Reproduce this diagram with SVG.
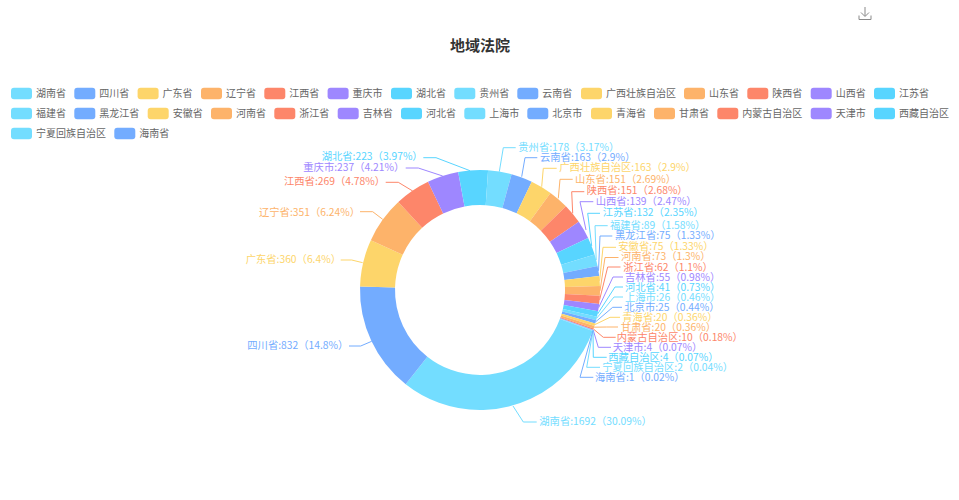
<svg xmlns="http://www.w3.org/2000/svg" width="959" height="500" viewBox="0 0 959 500">
<style>
text{font-family:"Noto Sans CJK SC","Liberation Sans",sans-serif;dominant-baseline:central}
.title{font-size:15px;font-weight:700;fill:#333;text-anchor:middle}
.leg text{font-size:10px;fill:#666}
.lab{font-size:10.3px}
.w{fill:none;stroke-width:35;transform:rotate(20deg);transform-origin:480px 290px}
.conn path{fill:none;stroke-width:1}
.s0{stroke:#73DDFF}.s1{stroke:#73ACFF}.s2{stroke:#FDD56A}.s3{stroke:#FDB36A}.s4{stroke:#FD866A}.s5{stroke:#9E87FF}.s6{stroke:#58D5FF}
.f0{fill:#73DDFF}.f1{fill:#73ACFF}.f2{fill:#FDD56A}.f3{fill:#FDB36A}.f4{fill:#FD866A}.f5{fill:#9E87FF}.f6{fill:#58D5FF}
</style>
<rect width="959" height="500" fill="#fff"/>
<text class="title" x="480" y="44">地域法院</text>
<g id="download-icon" fill="none" stroke="#8a8a8a" stroke-width="1"><path d="M865 7V16M861 12.5L865 16.5L869 12.5M859 15.5V19.5H871V15.5"/></g>
<g id="legend" class="leg">
<g><rect class="f0" x="11" y="87.7" width="21" height="11.6" rx="3"/><text x="36" y="92.8">湖南省</text></g>
<g><rect class="f1" x="74.3" y="87.7" width="21" height="11.6" rx="3"/><text x="99.3" y="92.8">四川省</text></g>
<g><rect class="f2" x="137.6" y="87.7" width="21" height="11.6" rx="3"/><text x="162.6" y="92.8">广东省</text></g>
<g><rect class="f3" x="201" y="87.7" width="21" height="11.6" rx="3"/><text x="226" y="92.8">辽宁省</text></g>
<g><rect class="f4" x="264.3" y="87.7" width="21" height="11.6" rx="3"/><text x="289.3" y="92.8">江西省</text></g>
<g><rect class="f5" x="327.6" y="87.7" width="21" height="11.6" rx="3"/><text x="352.6" y="92.8">重庆市</text></g>
<g><rect class="f6" x="391" y="87.7" width="21" height="11.6" rx="3"/><text x="416" y="92.8">湖北省</text></g>
<g><rect class="f0" x="454.3" y="87.7" width="21" height="11.6" rx="3"/><text x="479.3" y="92.8">贵州省</text></g>
<g><rect class="f1" x="517.3" y="87.7" width="21" height="11.6" rx="3"/><text x="542.3" y="92.8">云南省</text></g>
<g><rect class="f2" x="581" y="87.7" width="21" height="11.6" rx="3"/><text x="606" y="92.8">广西壮族自治区</text></g>
<g><rect class="f3" x="684" y="87.7" width="21" height="11.6" rx="3"/><text x="709" y="92.8">山东省</text></g>
<g><rect class="f4" x="747.3" y="87.7" width="21" height="11.6" rx="3"/><text x="772.3" y="92.8">陕西省</text></g>
<g><rect class="f5" x="810.7" y="87.7" width="21" height="11.6" rx="3"/><text x="835.7" y="92.8">山西省</text></g>
<g><rect class="f6" x="874" y="87.7" width="21" height="11.6" rx="3"/><text x="899" y="92.8">江苏省</text></g>
<g><rect class="f0" x="11" y="107.7" width="21" height="11.6" rx="3"/><text x="36" y="112.8">福建省</text></g>
<g><rect class="f1" x="74.3" y="107.7" width="21" height="11.6" rx="3"/><text x="99.3" y="112.8">黑龙江省</text></g>
<g><rect class="f2" x="147.7" y="107.7" width="21" height="11.6" rx="3"/><text x="172.7" y="112.8">安徽省</text></g>
<g><rect class="f3" x="211" y="107.7" width="21" height="11.6" rx="3"/><text x="236" y="112.8">河南省</text></g>
<g><rect class="f4" x="274.3" y="107.7" width="21" height="11.6" rx="3"/><text x="299.3" y="112.8">浙江省</text></g>
<g><rect class="f5" x="337.7" y="107.7" width="21" height="11.6" rx="3"/><text x="362.7" y="112.8">吉林省</text></g>
<g><rect class="f6" x="401" y="107.7" width="21" height="11.6" rx="3"/><text x="426" y="112.8">河北省</text></g>
<g><rect class="f0" x="464.3" y="107.7" width="21" height="11.6" rx="3"/><text x="489.3" y="112.8">上海市</text></g>
<g><rect class="f1" x="527.3" y="107.7" width="21" height="11.6" rx="3"/><text x="552.3" y="112.8">北京市</text></g>
<g><rect class="f2" x="591" y="107.7" width="21" height="11.6" rx="3"/><text x="616" y="112.8">青海省</text></g>
<g><rect class="f3" x="654" y="107.7" width="21" height="11.6" rx="3"/><text x="679" y="112.8">甘肃省</text></g>
<g><rect class="f4" x="717.3" y="107.7" width="21" height="11.6" rx="3"/><text x="742.3" y="112.8">内蒙古自治区</text></g>
<g><rect class="f5" x="810.7" y="107.7" width="21" height="11.6" rx="3"/><text x="835.7" y="112.8">天津市</text></g>
<g><rect class="f6" x="874" y="107.7" width="21" height="11.6" rx="3"/><text x="899" y="112.8">西藏自治区</text></g>
<g><rect class="f0" x="11" y="127.7" width="21" height="11.6" rx="3"/><text x="36" y="132.8">宁夏回族自治区</text></g>
<g><rect class="f1" x="114.3" y="127.7" width="21" height="11.6" rx="3"/><text x="139.3" y="132.8">海南省</text></g>
</g>
<g id="node-hunan"><circle class="w s0" cx="480" cy="290" r="102.5" pathLength="5623" stroke-dasharray="1692 5623" stroke-dashoffset="0"/><text class="lab f0" x="539.3" y="420.3">湖南省:1692（30.09%）</text></g>
<g id="node-sichuan"><circle class="w s1" cx="480" cy="290" r="102.5" pathLength="5623" stroke-dasharray="832 5623" stroke-dashoffset="-1692"/><text class="lab f1" x="247.3" y="344.3">四川省:832（14.8%）</text></g>
<g id="node-guangdong"><circle class="w s2" cx="480" cy="290" r="102.5" pathLength="5623" stroke-dasharray="360 5623" stroke-dashoffset="-2524"/><text class="lab f2" x="245.7" y="258.3">广东省:360（6.4%）</text></g>
<g id="node-liaoning"><circle class="w s3" cx="480" cy="290" r="102.5" pathLength="5623" stroke-dasharray="351 5623" stroke-dashoffset="-2884"/><text class="lab f3" x="259" y="211">辽宁省:351（6.24%）</text></g>
<g id="node-jiangxi"><circle class="w s4" cx="480" cy="290" r="102.5" pathLength="5623" stroke-dasharray="269 5623" stroke-dashoffset="-3235"/><text class="lab f4" x="284" y="180.3">江西省:269（4.78%）</text></g>
<g id="node-chongqing"><circle class="w s5" cx="480" cy="290" r="102.5" pathLength="5623" stroke-dasharray="237 5623" stroke-dashoffset="-3504"/><text class="lab f5" x="303.3" y="166">重庆市:237（4.21%）</text></g>
<g id="node-hubei"><circle class="w s6" cx="480" cy="290" r="102.5" pathLength="5623" stroke-dasharray="223 5623" stroke-dashoffset="-3741"/><text class="lab f6" x="321.7" y="155.3">湖北省:223（3.97%）</text></g>
<g id="node-guizhou"><circle class="w s0" cx="480" cy="290" r="102.5" pathLength="5623" stroke-dasharray="178 5623" stroke-dashoffset="-3964"/><text class="lab f0" x="518.3" y="146.6">贵州省:178（3.17%）</text></g>
<g id="node-yunnan"><circle class="w s1" cx="480" cy="290" r="102.5" pathLength="5623" stroke-dasharray="163 5623" stroke-dashoffset="-4142"/><text class="lab f1" x="540" y="156.6">云南省:163（2.9%）</text></g>
<g id="node-guangxi"><circle class="w s2" cx="480" cy="290" r="102.5" pathLength="5623" stroke-dasharray="163 5623" stroke-dashoffset="-4305"/><text class="lab f2" x="559.3" y="166.6">广西壮族自治区:163（2.9%）</text></g>
<g id="node-shandong"><circle class="w s3" cx="480" cy="290" r="102.5" pathLength="5623" stroke-dasharray="151 5623" stroke-dashoffset="-4468"/><text class="lab f3" x="575" y="178.3">山东省:151（2.69%）</text></g>
<g id="node-shaanxi"><circle class="w s4" cx="480" cy="290" r="102.5" pathLength="5623" stroke-dasharray="151 5623" stroke-dashoffset="-4619"/><text class="lab f4" x="586.7" y="189.3">陕西省:151（2.68%）</text></g>
<g id="node-shanxi"><circle class="w s5" cx="480" cy="290" r="102.5" pathLength="5623" stroke-dasharray="139 5623" stroke-dashoffset="-4770"/><text class="lab f5" x="595.7" y="200">山西省:139（2.47%）</text></g>
<g id="node-jiangsu"><circle class="w s6" cx="480" cy="290" r="102.5" pathLength="5623" stroke-dasharray="132 5623" stroke-dashoffset="-4909"/><text class="lab f6" x="602.7" y="211.6">江苏省:132（2.35%）</text></g>
<g id="node-fujian"><circle class="w s0" cx="480" cy="290" r="102.5" pathLength="5623" stroke-dasharray="89 5623" stroke-dashoffset="-5041"/><text class="lab f0" x="610" y="224.3">福建省:89（1.58%）</text></g>
<g id="node-heilongjiang"><circle class="w s1" cx="480" cy="290" r="102.5" pathLength="5623" stroke-dasharray="75 5623" stroke-dashoffset="-5130"/><text class="lab f1" x="615" y="234.3">黑龙江省:75（1.33%）</text></g>
<g id="node-anhui"><circle class="w s2" cx="480" cy="290" r="102.5" pathLength="5623" stroke-dasharray="75 5623" stroke-dashoffset="-5205"/><text class="lab f2" x="618.3" y="245.3">安徽省:75（1.33%）</text></g>
<g id="node-henan"><circle class="w s3" cx="480" cy="290" r="102.5" pathLength="5623" stroke-dasharray="73 5623" stroke-dashoffset="-5280"/><text class="lab f3" x="621" y="255.3">河南省:73（1.3%）</text></g>
<g id="node-zhejiang"><circle class="w s4" cx="480" cy="290" r="102.5" pathLength="5623" stroke-dasharray="62 5623" stroke-dashoffset="-5353"/><text class="lab f4" x="623.3" y="266">浙江省:62（1.1%）</text></g>
<g id="node-jilin"><circle class="w s5" cx="480" cy="290" r="102.5" pathLength="5623" stroke-dasharray="55 5623" stroke-dashoffset="-5415"/><text class="lab f5" x="625" y="276">吉林省:55（0.98%）</text></g>
<g id="node-hebei"><circle class="w s6" cx="480" cy="290" r="102.5" pathLength="5623" stroke-dasharray="41 5623" stroke-dashoffset="-5470"/><text class="lab f6" x="625" y="286">河北省:41（0.73%）</text></g>
<g id="node-shanghai"><circle class="w s0" cx="480" cy="290" r="102.5" pathLength="5623" stroke-dasharray="26 5623" stroke-dashoffset="-5511"/><text class="lab f0" x="625" y="296">上海市:26（0.46%）</text></g>
<g id="node-beijing"><circle class="w s1" cx="480" cy="290" r="102.5" pathLength="5623" stroke-dasharray="25 5623" stroke-dashoffset="-5537"/><text class="lab f1" x="624.3" y="306">北京市:25（0.44%）</text></g>
<g id="node-qinghai"><circle class="w s2" cx="480" cy="290" r="102.5" pathLength="5623" stroke-dasharray="20 5623" stroke-dashoffset="-5562"/><text class="lab f2" x="622.3" y="316">青海省:20（0.36%）</text></g>
<g id="node-gansu"><circle class="w s3" cx="480" cy="290" r="102.5" pathLength="5623" stroke-dasharray="20 5623" stroke-dashoffset="-5582"/><text class="lab f3" x="620.7" y="326">甘肃省:20（0.36%）</text></g>
<g id="node-neimenggu"><circle class="w s4" cx="480" cy="290" r="102.5" pathLength="5623" stroke-dasharray="10 5623" stroke-dashoffset="-5602"/><text class="lab f4" x="616.7" y="336">内蒙古自治区:10（0.18%）</text></g>
<g id="node-tianjin"><circle class="w s5" cx="480" cy="290" r="102.5" pathLength="5623" stroke-dasharray="4 5623" stroke-dashoffset="-5612"/><text class="lab f5" x="612.7" y="346.3">天津市:4（0.07%）</text></g>
<g id="node-xizang"><circle class="w s6" cx="480" cy="290" r="102.5" pathLength="5623" stroke-dasharray="4 5623" stroke-dashoffset="-5616"/><text class="lab f6" x="608.3" y="356.3">西藏自治区:4（0.07%）</text></g>
<g id="node-ningxia"><circle class="w s0" cx="480" cy="290" r="102.5" pathLength="5623" stroke-dasharray="2 5623" stroke-dashoffset="-5620"/><text class="lab f0" x="602.3" y="366">宁夏回族自治区:2（0.04%）</text></g>
<g id="node-hainan"><circle class="w s1" cx="480" cy="290" r="102.5" pathLength="5623" stroke-dasharray="1 5623" stroke-dashoffset="-5622"/><text class="lab f1" x="595" y="376">海南省:1（0.02%）</text></g>
<g id="connectors" class="conn">
<path class="s0" d="M513 406L523.3 422H536.7"/>
<path class="s1" d="M371.7 341.3L360.7 346H349"/>
<path class="s2" d="M362.7 262.7L351.7 260H340.7"/>
<path class="s3" d="M382.7 219.3L372.7 211.7H360"/>
<path class="s4" d="M412.7 191L398.3 182.3H385.7"/>
<path class="s5" d="M442.7 176L418.3 168H405.7"/>
<path class="s6" d="M470 170.7L436 157.7H423.3"/>
<path class="s0" d="M499.3 171.7L503.3 147.7H515.7"/>
<path class="s1" d="M521.7 176.7L525 157.7H537.3"/>
<path class="s2" d="M541.7 186.7L543.3 168.3H556.7"/>
<path class="s3" d="M558.3 198.3L560 179.3H572.7"/>
<path class="s4" d="M572.7 213.3L571.7 191.7H584.3"/>
<path class="s5" d="M586 230L580 201.7H593.3"/>
<path class="s6" d="M591.7 246L587.7 213.3H600"/>
<path class="s0" d="M596.2 260L595 225.7H607.7"/>
<path class="s1" d="M598.5 270.8L600 236H612.3"/>
<path class="s2" d="M599.6 280.8L603 247.3H616"/>
<path class="s3" d="M600 290.8L605 257.5H618.5"/>
<path class="s4" d="M599.6 299.8L607.7 267H620.5"/>
<path class="s5" d="M598.7 307.6L613 277H623"/>
<path class="s6" d="M597.6 314L615 287H623"/>
<path class="s0" d="M596.6 318.3L614 297H623"/>
<path class="s1" d="M595.8 321.7L612.7 307.3H622"/>
<path class="s2" d="M594.9 324.6L610 317.3H620"/>
<path class="s3" d="M594.1 327.2L606.7 327H618"/>
<path class="s4" d="M593.5 329.1L603.3 337.3H615.7"/>
<path class="s5" d="M593.2 330L598.3 347.3H611"/>
<path class="s6" d="M593 330.4L593.3 357.3H606.7"/>
<path class="s0" d="M592.9 330.8L586.7 367.3H600"/>
<path class="s1" d="M592.8 331L580 377.3H593.3"/>
</g>
</svg>
